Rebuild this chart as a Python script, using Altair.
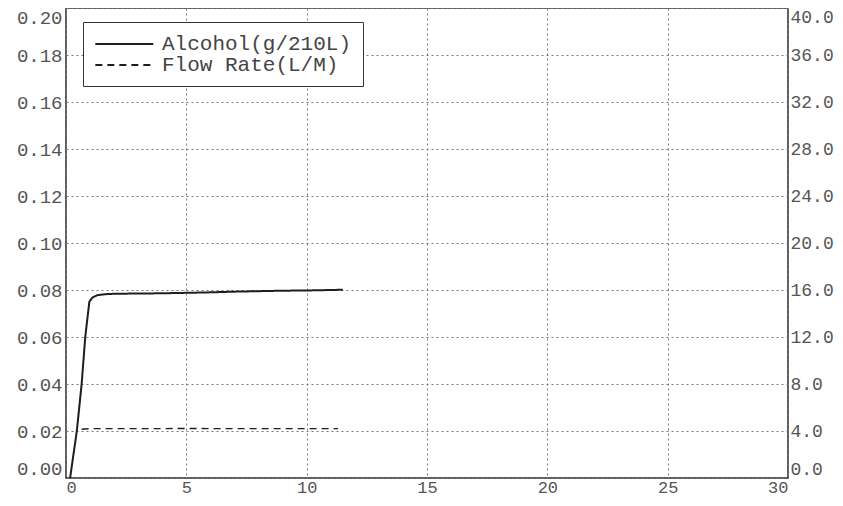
import altair as alt
import pandas as pd

# Alcohol (g/210L) vs time (s)
alc_t = [0.17, 0.45, 0.65, 0.8, 0.97, 1.1, 1.3, 1.6, 2.0, 3.0, 4.0, 5.0, 6.0, 7.0, 8.0, 9.0, 10.0, 11.0, 11.5]
alc_v = [0.0, 0.02, 0.04, 0.06, 0.075, 0.0768, 0.0778, 0.0782, 0.0784, 0.0785, 0.0786, 0.0788, 0.079, 0.0793, 0.0795, 0.0797, 0.0798, 0.08, 0.0801]

# Flow rate (L/M) vs time (s)
flow_t = [0.65, 1.0, 2.0, 3.0, 4.0, 5.0, 6.0, 7.0, 8.0, 9.0, 10.0, 11.0, 11.3]
flow_v = [4.15, 4.2, 4.2, 4.2, 4.2, 4.22, 4.2, 4.2, 4.2, 4.2, 4.2, 4.2, 4.2]

series = ["Alcohol(g/210L)", "Flow Rate(L/M)"]
x_ticks = [0, 5, 10, 15, 20, 25, 30]
left_ticks = [0.0, 0.02, 0.04, 0.06, 0.08, 0.10, 0.12, 0.14, 0.16, 0.18, 0.20]
right_ticks = [0, 4, 8, 12, 16, 20, 24, 28, 32, 36, 40]

alc = pd.DataFrame({"t": alc_t, "v": alc_v, "series": series[0]})
flow = pd.DataFrame({"t": flow_t, "v": flow_v, "series": series[1]})

FONT = "Liberation Mono"
TXT = "#555555"
INK = "#1e1e1e"

dash = alt.StrokeDash(
    "series:N",
    scale=alt.Scale(domain=series, range=[[1, 0], [7, 5]]),
    legend=alt.Legend(
        title=None,
        orient="none",
        legendX=17,
        legendY=14,
        direction="vertical",
        symbolType="M-1,0H5",
        symbolSize=374,
        symbolStrokeWidth=1.8,
        symbolStrokeColor=INK,
        labelFont=FONT,
        labelFontSize=21,
        labelColor="#444444",
        labelOffset=46,
        labelLimit=0,
        rowPadding=0,
        padding=11,
        strokeColor="#333333",
        fillColor="white",
        cornerRadius=0,
    ),
)

xenc = alt.X(
    "t:Q",
    scale=alt.Scale(domain=[0, 30], nice=False),
    axis=alt.Axis(
        values=x_ticks, title=None, grid=True, gridDash=[2, 3], gridColor="#777777",
        gridWidth=1, domain=False, ticks=False, labelPadding=1, format="d",
        labelFont=FONT, labelFontSize=17, labelColor=TXT, labelFlush=True,
    ),
)

left = alt.Chart(alc).mark_line(color=INK, strokeWidth=2).encode(
    x=xenc,
    y=alt.Y(
        "v:Q",
        scale=alt.Scale(domain=[0, 0.2], nice=False),
        axis=alt.Axis(
            values=left_ticks, format=".2f", title=None, grid=True, gridDash=[2, 3],
            gridColor="#777777", gridWidth=1, domain=False, ticks=False, labelPadding=4,
            labelFont=FONT, labelFontSize=19, labelColor=TXT, labelFlush=True,
        ),
    ),
    strokeDash=dash,
)

right = alt.Chart(flow).mark_line(color=INK, strokeWidth=1.4).encode(
    x=xenc,
    y=alt.Y(
        "v:Q",
        scale=alt.Scale(domain=[0, 40], nice=False),
        axis=alt.Axis(
            orient="right", values=right_ticks, format=".1f", title=None, grid=False,
            domain=False, ticks=False, labelPadding=2, labelAlign="left",
            labelFont=FONT, labelFontSize=18, labelColor=TXT, labelFlush=True,
        ),
    ),
    strokeDash=dash,
)

chart = (
    alt.layer(left, right)
    .resolve_scale(y="independent")
    .properties(
        width=722,
        height=470,
        autosize=alt.AutoSizeParams(type="none"),
        padding={"left": 58, "top": 0, "right": 47, "bottom": 19},
        background="white",
    )
    .configure_view(stroke="#2a2a2a", strokeWidth=1.5)
)

chart.save("out.html", embed_options={"renderer": "svg", "actions": False})
